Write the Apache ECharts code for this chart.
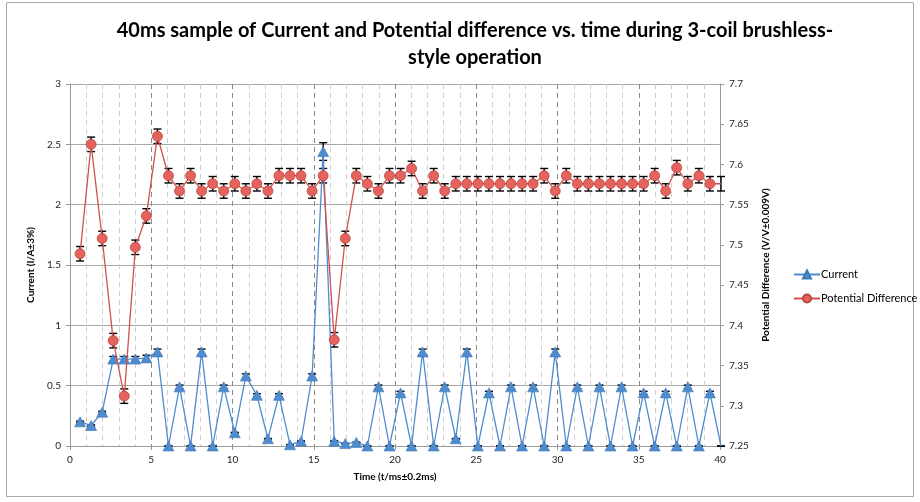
<!DOCTYPE html>
<html>
<head>
<meta charset="utf-8">
<script src="https://cdn.jsdelivr.net/npm/echarts@6/dist/echarts.min.js"></script>
<style>
  html, body { margin: 0; padding: 0; background: #fff; }
  #chart { width: 920px; height: 502px; }
</style>
</head>
<body>
<div id="chart"></div>
<script>
// Sample times (ms)
const timeMs = [
  0.62, 1.30, 1.98, 2.66, 3.34, 4.02, 4.70, 5.38, 6.06, 6.74,
  7.42, 8.10, 8.78, 9.46, 10.14, 10.82, 11.50, 12.18, 12.86, 13.54,
  14.22, 14.90, 15.58, 16.26, 16.94, 17.62, 18.30, 18.98, 19.66, 20.34,
  21.02, 21.70, 22.38, 23.06, 23.74, 24.42, 25.10, 25.78, 26.46, 27.14,
  27.82, 28.50, 29.18, 29.86, 30.54, 31.22, 31.90, 32.58, 33.26, 33.94,
  34.62, 35.30, 35.98, 36.66, 37.34, 38.02, 38.70, 39.38, 40.06
];

// Coil current (A)
const currentA = [
  0.20, 0.17, 0.28, 0.72, 0.72, 0.72, 0.73, 0.78, 0.00, 0.49,
  0.00, 0.78, 0.00, 0.49, 0.11, 0.58, 0.42, 0.06, 0.42, 0.01,
  0.04, 0.58, 2.44, 0.04, 0.02, 0.03, 0.00, 0.49, 0.00, 0.44,
  0.00, 0.78, 0.00, 0.49, 0.06, 0.78, 0.00, 0.44, 0.00, 0.49,
  0.00, 0.49, 0.00, 0.78, 0.00, 0.49, 0.00, 0.49, 0.00, 0.49,
  0.00, 0.44, 0.00, 0.44, 0.00, 0.49, 0.00, 0.44, 0.00
];

// Potential difference (V)
const potentialV = [
  7.489, 7.625, 7.508, 7.381, 7.312, 7.497, 7.536, 7.635, 7.586, 7.567,
  7.586, 7.567, 7.576, 7.567, 7.576, 7.567, 7.576, 7.567, 7.586, 7.586,
  7.586, 7.567, 7.586, 7.382, 7.508, 7.586, 7.576, 7.567, 7.586, 7.586,
  7.595, 7.567, 7.586, 7.567, 7.576, 7.576, 7.576, 7.576, 7.576, 7.576,
  7.576, 7.576, 7.586, 7.567, 7.586, 7.576, 7.576, 7.576, 7.576, 7.576,
  7.576, 7.576, 7.586, 7.567, 7.596, 7.576, 7.586, 7.576, 7.576
];

// Measurement uncertainties
const currentRelErr = 0.03;   // ±3 %
const potentialAbsErr = 0.009; // ±0.009 V

// Axis ticks
const timeTicks = [0, 5, 10, 15, 20, 25, 30, 35, 40];
const currentTicks = [0, 0.5, 1, 1.5, 2, 2.5, 3];
const potentialTicks = [7.25, 7.3, 7.35, 7.4, 7.45, 7.5, 7.55, 7.6, 7.65, 7.7];

const FONT = 'Lato, "Open Sans", sans-serif';

const currentPts = timeMs.map((t, i) => [t, currentA[i]]);
const potentialPts = timeMs.map((t, i) => [t, potentialV[i]]);
const currentBars = timeMs.map((t, i) => [t, currentA[i] * (1 - currentRelErr), currentA[i] * (1 + currentRelErr)]);
const potentialBars = timeMs.map((t, i) => [t, potentialV[i] - potentialAbsErr, potentialV[i] + potentialAbsErr]);

function errorBars(yAxisIndex, rows) {
  return {
    type: 'custom',
    yAxisIndex: yAxisIndex,
    z: 1,
    silent: true,
    clip: false,
    encode: { x: 0, y: [1, 2] },
    data: rows,
    renderItem: function (params, api) {
      const x = api.value(0);
      const lo = api.coord([x, api.value(1)]);
      const hi = api.coord([x, api.value(2)]);
      const half = 4;
      const st = { stroke: '#000', lineWidth: 1.4 };
      return {
        type: 'group',
        children: [
          { type: 'line', shape: { x1: hi[0], y1: hi[1], x2: lo[0], y2: lo[1] }, style: st },
          { type: 'line', shape: { x1: hi[0] - half, y1: hi[1], x2: hi[0] + half, y2: hi[1] }, style: st },
          { type: 'line', shape: { x1: lo[0] - half, y1: lo[1], x2: lo[0] + half, y2: lo[1] }, style: st }
        ]
      };
    }
  };
}

const chart = echarts.init(document.getElementById('chart'), null, { renderer: 'canvas' });

chart.setOption({
  animation: false,
  backgroundColor: '#fff',
  textStyle: { fontFamily: FONT },
  graphic: [{
    type: 'rect',
    shape: { x: 6.5, y: 2.5, width: 907, height: 494 },
    style: { fill: 'none', stroke: '#a8a8a8', lineWidth: 1 },
    z: -10
  }],
  title: {
    text: '40ms sample of Current and Potential difference vs. time during 3-coil brushless-\nstyle operation',
    left: 470,
    top: 12,
    textAlign: 'center',
    textStyle: { fontFamily: FONT, fontSize: 20, fontWeight: 'bold', color: '#000', lineHeight: 27 }
  },
  legend: {
    orient: 'vertical',
    left: 788,
    top: 264,
    itemWidth: 26,
    itemHeight: 10,
    itemGap: 13,
    data: ['Current', 'Potential Difference'],
    textStyle: { fontFamily: FONT, fontSize: 11, color: '#000', padding: [0, 0, 0, -4] }
  },
  grid: { left: 70, right: 200, top: 84, bottom: 56, containLabel: false },
  xAxis: {
    type: 'value',
    min: timeTicks[0],
    max: timeTicks[timeTicks.length - 1],
    interval: timeTicks[1] - timeTicks[0],
    name: 'Time (t/ms±0.2ms)',
    nameLocation: 'middle',
    nameGap: 26,
    nameTextStyle: { fontFamily: FONT, fontSize: 10, fontWeight: 'bold', color: '#000' },
    axisLine: { lineStyle: { color: '#999', width: 1 } },
    axisTick: { show: true, length: 4, lineStyle: { color: '#999' } },
    axisLabel: { fontFamily: FONT, fontSize: 10, color: '#222', margin: 9 },
    splitLine: { show: true, lineStyle: { color: '#8a8a8a', type: [5, 4], width: 1 } },
    minorTick: { show: false, splitNumber: 5 },
    minorSplitLine: { show: true, lineStyle: { color: '#cfcfcf', type: [5, 4], width: 1 } }
  },
  yAxis: [{
    type: 'value',
    position: 'left',
    min: currentTicks[0],
    max: currentTicks[currentTicks.length - 1],
    interval: currentTicks[1] - currentTicks[0],
    name: 'Current (I/A±3%)',
    nameLocation: 'middle',
    nameGap: 33,
    nameRotate: 90,
    nameTextStyle: { fontFamily: FONT, fontSize: 10, fontWeight: 'bold', color: '#000' },
    axisLine: { show: true, lineStyle: { color: '#999', width: 1 } },
    axisTick: { show: true, length: 4, lineStyle: { color: '#999' } },
    axisLabel: { fontFamily: FONT, fontSize: 10, color: '#222', margin: 9 },
    splitLine: { show: true, lineStyle: { color: '#a8a8a8', width: 1 } }
  }, {
    type: 'value',
    position: 'right',
    min: potentialTicks[0],
    max: potentialTicks[potentialTicks.length - 1],
    interval: 0.05,
    name: 'Potential Difference (V/V±0.009V)',
    nameLocation: 'middle',
    nameGap: 41,
    nameRotate: 90,
    nameTextStyle: { fontFamily: FONT, fontSize: 10, fontWeight: 'bold', color: '#000' },
    axisLine: { show: true, lineStyle: { color: '#999', width: 1 } },
    axisTick: { show: true, length: 4, lineStyle: { color: '#999' } },
    axisLabel: { fontFamily: FONT, fontSize: 10, color: '#222', margin: 9 },
    splitLine: { show: false }
  }],
  series: [
    errorBars(0, currentBars),
    errorBars(1, potentialBars),
    {
      name: 'Current',
      type: 'line',
      yAxisIndex: 0,
      data: currentPts,
      z: 3,
      symbol: 'triangle',
      symbolSize: [11, 10],
      showAllSymbol: true,
      lineStyle: { color: '#4f8ccf', width: 1.3 },
      itemStyle: { color: '#4f8ccf', borderColor: '#3f77b5', borderWidth: 0.6 }
    },
    {
      name: 'Potential Difference',
      type: 'line',
      yAxisIndex: 1,
      data: potentialPts,
      z: 4,
      symbol: 'circle',
      symbolSize: 10,
      showAllSymbol: true,
      lineStyle: { color: '#d0504c', width: 1.3 },
      itemStyle: { color: '#e5625d', borderColor: '#b64744', borderWidth: 0.8 }
    }
  ]
});
</script>
</body>
</html>
